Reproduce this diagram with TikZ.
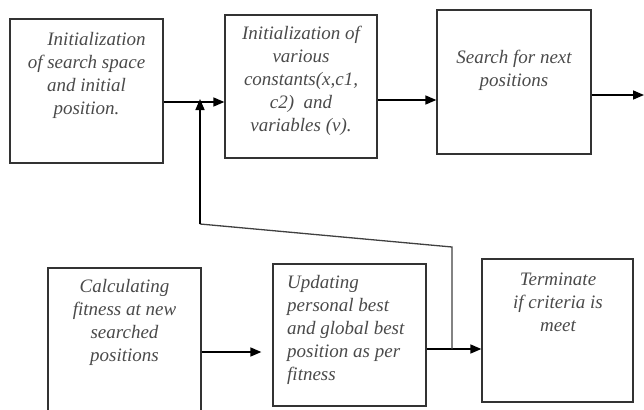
\documentclass[tikz,border=0pt]{standalone}
\usepackage{fontspec}
\setmainfont{Liberation Serif}
\usetikzlibrary{arrows.meta}
\definecolor{txtgray}{HTML}{4A4A4A}
\definecolor{boxgray}{HTML}{333333}
\tikzset{
  stepbox/.style={draw=boxgray, line width=1.3pt, rectangle, inner sep=0pt, fill=none},
  txt/.style={inner sep=0pt, text=txtgray, font=\fontsize{19}{23}\selectfont\itshape},
  arr/.style={draw=black, line width=1.6pt, -{Triangle[length=11pt,width=9pt]}},
  fb/.style={draw=black!75, line width=1.3pt},
}
\begin{document}
\begin{tikzpicture}[x=1pt,y=-1pt]
\useasboundingbox (0,0) rectangle (644,409);
\clip (0,0) rectangle (644,409);
% boxes
\node[stepbox, minimum width=153pt, minimum height=144pt] (b1) at (86.5,91) {};
\node[stepbox, minimum width=152pt, minimum height=143pt] (b2) at (301,86.5) {};
\node[stepbox, minimum width=154pt, minimum height=144pt] (b3) at (514,82) {};
\node[stepbox, minimum width=153pt, minimum height=160pt] (b4) at (124.5,348) {};
\node[stepbox, minimum width=153pt, minimum height=142pt] (b5) at (349.5,335) {};
\node[stepbox, minimum width=151pt, minimum height=143pt] (b6) at (557.5,330.5) {};
% texts
\node[txt, align=center] (t1) at (86.5,75) {\hspace*{20pt}Initialization\\of search space\\and initial\\position.};
\node[txt, align=center] (t2) at (301,81) {Initialization of\\various\\constants(x,c1,\\c2)\ \ and\\variables (v).};
\node[txt, align=center] (t3) at (514,70) {Search for next\\positions};
\node[txt, align=center] (t4) at (124.5,322.5) {Calculating\\fitness at new\\searched\\positions};
\node[txt, align=left, anchor=west] (t5) at (287,330) {Updating\\personal best\\and global best\\position as per\\fitness};
\node[txt, align=center] (t6) at (558,302) {Terminate\\if criteria is\\meet};
% helper coordinates
\coordinate (j1) at (200,102);
\coordinate (f1) at (200,224);
\coordinate (f2) at (452,247);
\coordinate (f3) at (452,349);
\coordinate (out) at (644,95);
% connectors
\draw[arr] (b1.east |- j1) -- (b2.west |- j1);
\draw[arr] (b2.east |- 0,100) -- (b3.west |- 0,100);
\draw[arr] (b3.east |- out) -- (out);
\draw[arr, shorten >=11pt] (b4.east |- 0,352) -- (b5.west |- 0,352);
\draw[arr] (b5.east |- f3) -- (b6.west |- f3);
\draw[fb] (f3) -- (f2) -- (f1);
\draw[arr] (f1) -- ([yshift=3pt]j1);
\end{tikzpicture}
\end{document}
